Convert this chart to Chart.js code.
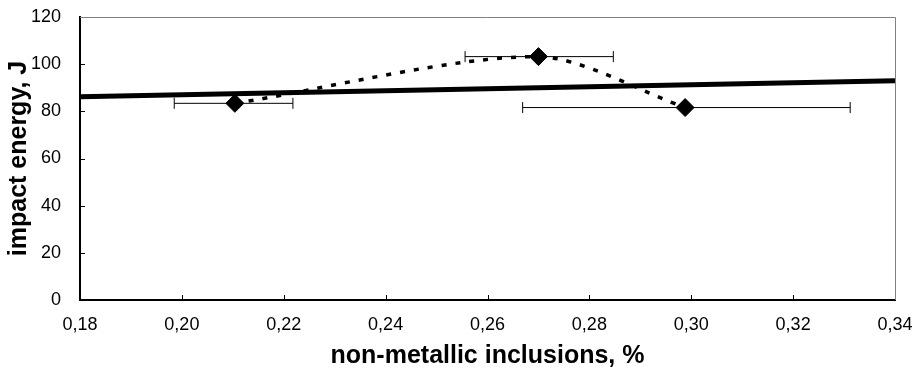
<!DOCTYPE html>
<html>
<head>
<meta charset="utf-8">
<script src="https://cdn.jsdelivr.net/npm/chart.js@4"></script>
<style>
  body { margin: 0; background: #fff; }
  #wrap { width: 919px; height: 375px; }
</style>
</head>
<body>
<div id="wrap"><canvas id="chart"></canvas></div>
<script>
// measured points (non-metallic inclusions %, impact energy J)
const xVals = [0.2104, 0.2700, 0.2988];
const yVals = [83.4, 103.2, 81.6];
// horizontal error bars
const xLow = [0.1985, 0.2556, 0.2669];
const xHigh = [0.2218, 0.2847, 0.3312];
// linear trend end points
const trendX = [0.18, 0.34];
const trendY = [86.2, 93.0];
// axis ticks
const xTicks = [0.18, 0.20, 0.22, 0.24, 0.26, 0.28, 0.30, 0.32, 0.34];
const yTicks = [0, 20, 40, 60, 80, 100, 120];

const FONT = "'Liberation Sans', Arial, sans-serif";

const points = xVals.map((x, i) => ({ x: x, y: yVals[i] }));

// one small line dataset per error bar, caps drawn as rotated "line" points
const errorSets = xVals.map((x, i) => ({
  data: [{ x: xLow[i], y: yVals[i] }, { x: xHigh[i], y: yVals[i] }],
  showLine: true,
  borderColor: "#000",
  borderWidth: 1,
  pointStyle: "line",
  rotation: 90,
  pointRadius: 5.5,
  pointBorderColor: "#000",
  pointBorderWidth: 1,
  order: 4
}));

// frame + small inner tick marks
const framePlugin = {
  id: "frame",
  afterDraw(chart) {
    const { ctx, chartArea: a, scales } = chart;
    ctx.save();
    ctx.strokeStyle = "#808080";
    ctx.lineWidth = 1;
    ctx.beginPath();
    ctx.moveTo(a.left, a.top + 0.5);
    ctx.lineTo(a.right + 0.5, a.top + 0.5);
    ctx.lineTo(a.right + 0.5, a.bottom);
    ctx.stroke();
    ctx.strokeStyle = "#000";
    ctx.beginPath();
    const nx = scales.x.ticks.length;
    scales.x.ticks.forEach((t, i) => {
      if (i === 0 || i === nx - 1) return;
      const px = Math.round(scales.x.getPixelForTick(i)) + 0.5;
      ctx.moveTo(px, a.bottom);
      ctx.lineTo(px, a.bottom - 5);
    });
    const ny = scales.y.ticks.length;
    scales.y.ticks.forEach((t, i) => {
      if (i === 0 || i === ny - 1) return;
      const py = Math.round(scales.y.getPixelForTick(i)) + 0.5;
      ctx.moveTo(a.left, py);
      ctx.lineTo(a.left + 5, py);
    });
    ctx.stroke();
    ctx.restore();
  }
};

new Chart(document.getElementById("chart"), {
  type: "scatter",
  data: {
    datasets: [
      {
        label: "trend",
        data: trendX.map((x, i) => ({ x: x, y: trendY[i] })),
        showLine: true,
        borderColor: "#000",
        borderWidth: 5,
        pointRadius: 0,
        order: 1
      },
      {
        label: "curve",
        data: points,
        showLine: true,
        borderColor: "#000",
        borderWidth: 3.5,
        borderDash: [5, 9],
        tension: 0.28,
        pointRadius: 0,
        order: 3
      },
      {
        label: "points",
        data: points,
        showLine: false,
        pointStyle: "rectRot",
        pointRadius: 9,
        pointBackgroundColor: "#000",
        pointBorderColor: "#000",
        order: 2
      },
      ...errorSets
    ]
  },
  options: {
    responsive: true,
    maintainAspectRatio: false,
    animation: false,
    layout: { padding: { top: 17, right: 24, left: 0, bottom: 0 } },
    plugins: {
      legend: { display: false },
      tooltip: { enabled: false }
    },
    scales: {
      x: {
        type: "linear",
        min: 0.18,
        max: 0.34,
        afterBuildTicks: s => { s.ticks = xTicks.map(v => ({ value: v })); },
        afterFit: s => { s.height = 75; s.paddingLeft = 0; s.paddingRight = 0; },
        grid: { display: false },
        border: { display: true, color: "#000", width: 2 },
        ticks: {
          color: "#000",
          padding: 6,
          font: { family: FONT, size: 18 },
          callback: v => v.toFixed(2).replace(".", ",")
        },
        title: {
          display: true,
          text: "non-metallic inclusions, %",
          color: "#000",
          font: { family: FONT, size: 25, weight: "bold" },
          padding: { top: 0, bottom: 4 }
        }
      },
      y: {
        min: 0,
        max: 120,
        afterBuildTicks: s => { s.ticks = yTicks.map(v => ({ value: v })); },
        afterFit: s => { s.width = 80; s.paddingTop = 0; s.paddingBottom = 0; },
        grid: { display: false },
        border: { display: true, color: "#000", width: 2 },
        ticks: {
          color: "#000",
          padding: 11,
          font: { family: FONT, size: 18 }
        },
        title: {
          display: true,
          text: "impact energy, J",
          color: "#000",
          font: { family: FONT, size: 25, weight: "bold" },
          padding: { top: 4, bottom: 0 }
        }
      }
    }
  },
  plugins: [framePlugin]
});
</script>
</body>
</html>
